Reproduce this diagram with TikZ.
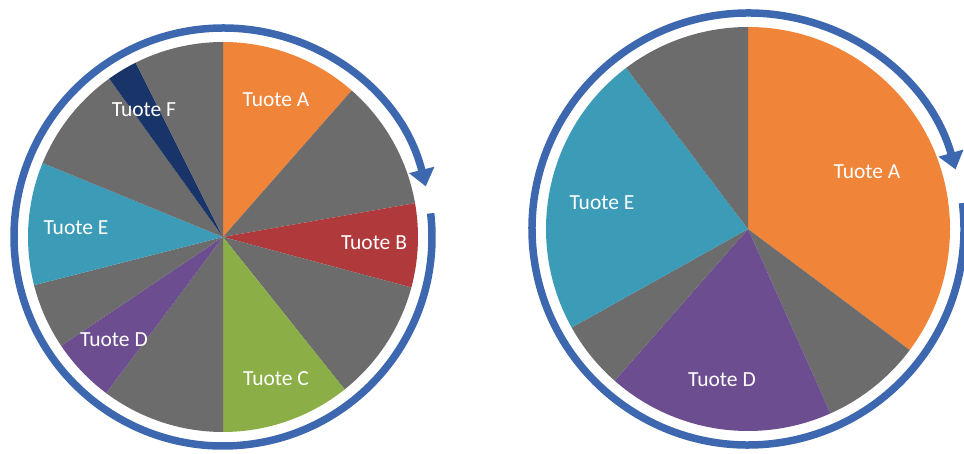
\documentclass[tikz,border=0pt]{standalone}
\usepackage{fontspec}
\setmainfont{Carlito}
\usetikzlibrary{arrows.meta}

\definecolor{oranssi}{RGB}{240,132,56}
\definecolor{harmaa}{RGB}{108,108,108}
\definecolor{punainen}{RGB}{175,57,59}
\definecolor{vihrea}{RGB}{139,175,70}
\definecolor{violetti}{RGB}{108,77,143}
\definecolor{turkoosi}{RGB}{60,155,183}
\definecolor{tummansininen}{RGB}{25,52,104}
\definecolor{kehansininen}{RGB}{61,104,176}

\tikzset{
  tuote/.style={text=white, font=\fontsize{21.5}{26}\selectfont},
  kehä/.style={draw=kehansininen, line width=7.5pt, -{Triangle[width=25pt,length=17pt]}}
}

\begin{document}
\begin{tikzpicture}[x=1pt, y=1pt]
                    \useasboundingbox (0,0) rectangle (964,453);
                    \coordinate (vasen) at (223,216);
                    \coordinate (oikea) at (748,224);
                    % vasen piirakka
                    \foreach \alku/\loppu/\vari in {90/48.7/oranssi, 48.7/10/harmaa, 10/-15/punainen,
                        -15/-51.4/harmaa, -51.4/-90/vihrea, -90/-126.8/harmaa, -126.8/-146.1/violetti,
                        -146.1/-165.7/harmaa, -165.7/-202.3/turkoosi, -202.3/-234.3/harmaa,
                        -234.3/-243.4/tummansininen, -243.4/-270/harmaa}
                        \fill[\vari] (vasen) -- ++(\alku:195) arc[start angle=\alku, end angle=\loppu, radius=195] -- cycle;
                    \draw[kehä] ([shift={(6.5:209)}]vasen) arc[start angle=6.5, end angle=-346, radius=209];
                    \node[tuote] (vA) at (276,353) {Tuote A};
                    \node[tuote] (vB) at (374,210) {Tuote B};
                    \node[tuote] (vC) at (276,74) {Tuote C};
                    \node[tuote] (vD) at (114,113) {Tuote D};
                    \node[tuote] (vE) at (76,225) {Tuote E};
                    \node[tuote] (vF) at (144,343) {Tuote F};
                    % oikea piirakka
                    \foreach \alku/\loppu/\vari in {90/-36.8/oranssi, -36.8/-65.9/harmaa, -65.9/-131.3/violetti,
                        -131.3/-150.8/harmaa, -150.8/-232.9/turkoosi, -232.9/-270/harmaa}
                        \fill[\vari] (oikea) -- ++(\alku:202) arc[start angle=\alku, end angle=\loppu, radius=202] -- cycle;
                    \draw[kehä] ([shift={(6.9:216)}]oikea) arc[start angle=6.9, end angle=-344, radius=216];
                    \node[tuote] (oA) at (867,281) {Tuote A};
                    \node[tuote] (oE) at (602,250) {Tuote E};
                    \node[tuote] (oD) at (722,73) {Tuote D};
                \end{tikzpicture}
\end{document}
